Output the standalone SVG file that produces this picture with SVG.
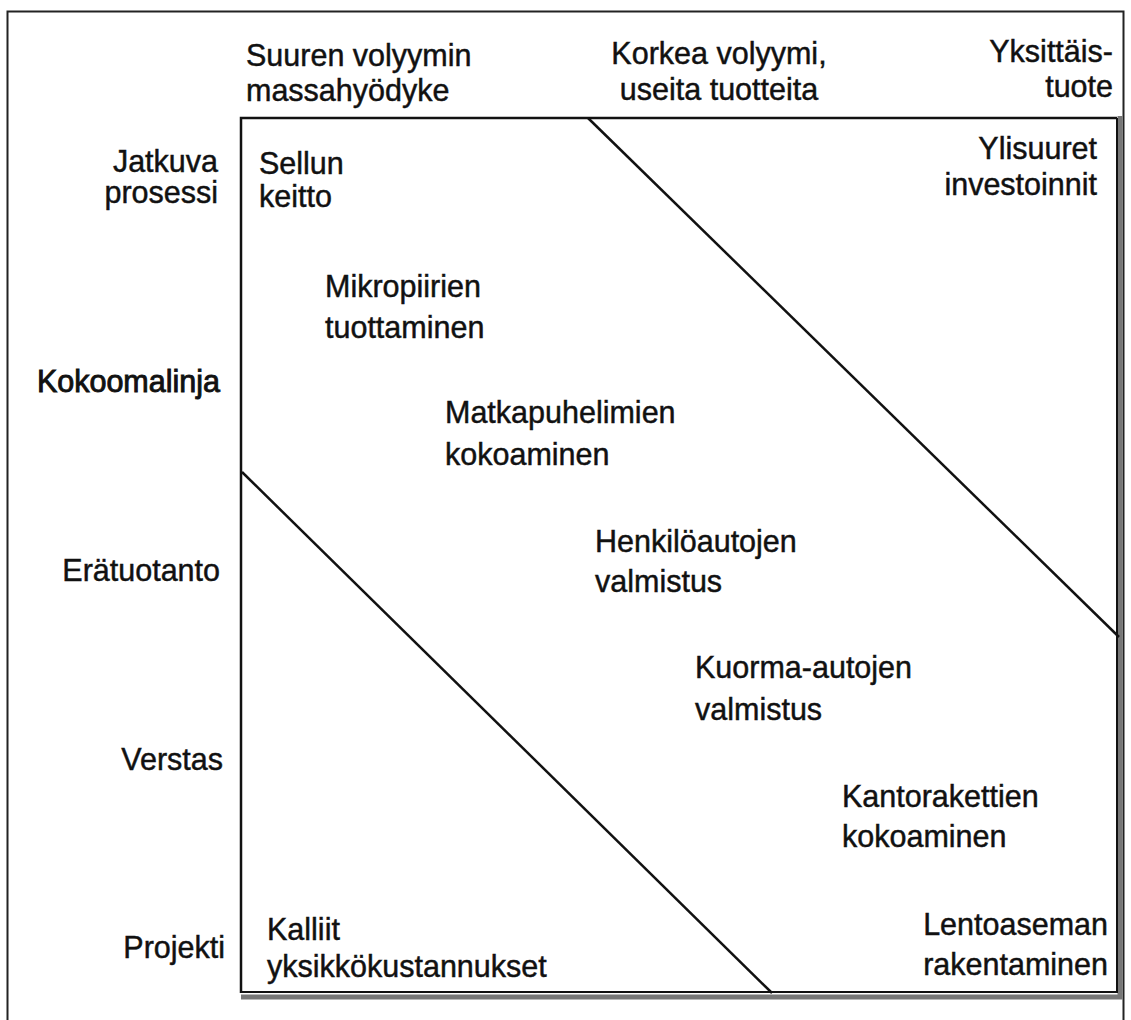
<svg xmlns="http://www.w3.org/2000/svg" width="1131" height="1020" viewBox="0 0 1131 1020">
<style>
text{font-family:"Liberation Sans",Arial,sans-serif;font-size:30.5px;fill:#111;stroke:#111;stroke-width:0.45}
.r{text-anchor:end}
.m{text-anchor:middle}
.ln{stroke:#111;stroke-width:2.5;fill:none}
</style>
<rect x="0" y="0" width="1131" height="1020" fill="#fff"/>
<path d="M7.5,1020 V11.5 H1123.5 V1020" fill="none" stroke="#222" stroke-width="2"/>
<g id="frame">
<path class="ln" d="M241,993 V118 H1117"/>
<path d="M1120,116 V997 H241" fill="none" stroke="#777" stroke-width="5"/>
<path d="M1117,118 V992 H241" fill="none" stroke="#111" stroke-width="2"/>
</g>
<g id="connectors">
<line class="ln" x1="588" y1="118" x2="1119" y2="637"/>
<line class="ln" x1="242" y1="472" x2="772" y2="993"/>
</g>
<g id="col1"><text x="246" y="66">Suuren volyymin</text><text x="246" y="101">massahyödyke</text></g>
<g id="col2"><text class="m" x="719" y="64">Korkea volyymi,</text><text class="m" x="719" y="100">useita tuotteita</text></g>
<g id="col3"><text class="r" x="1113" y="62">Yksittäis-</text><text class="r" x="1113" y="97">tuote</text></g>
<g id="row1"><text class="r" x="218" y="172">Jatkuva</text><text class="r" x="218" y="203">prosessi</text></g>
<g id="row2"><text class="r" x="220" y="392" style="stroke-width:0.9">Kokoomalinja</text></g>
<g id="row3"><text class="r" x="220" y="581">Erätuotanto</text></g>
<g id="row4"><text class="r" x="223" y="770">Verstas</text></g>
<g id="row5"><text class="r" x="225" y="958">Projekti</text></g>
<g id="sellu"><text x="259" y="174">Sellun</text><text x="259" y="207">keitto</text></g>
<g id="ylisuuret"><text class="r" x="1097" y="159">Ylisuuret</text><text class="r" x="1097" y="195">investoinnit</text></g>
<g id="mikro"><text x="325" y="297">Mikropiirien</text><text x="325" y="338">tuottaminen</text></g>
<g id="matka"><text x="445" y="423">Matkapuhelimien</text><text x="445" y="465">kokoaminen</text></g>
<g id="henkilo"><text x="595" y="552">Henkilöautojen</text><text x="595" y="592">valmistus</text></g>
<g id="kuorma"><text x="695" y="678">Kuorma-autojen</text><text x="695" y="720">valmistus</text></g>
<g id="kanto"><text x="842" y="807">Kantorakettien</text><text x="842" y="847">kokoaminen</text></g>
<g id="kalliit"><text x="267" y="940">Kalliit</text><text x="267" y="977">yksikkökustannukset</text></g>
<g id="lento"><text class="r" x="1108" y="935">Lentoaseman</text><text class="r" x="1108" y="975">rakentaminen</text></g>
</svg>
